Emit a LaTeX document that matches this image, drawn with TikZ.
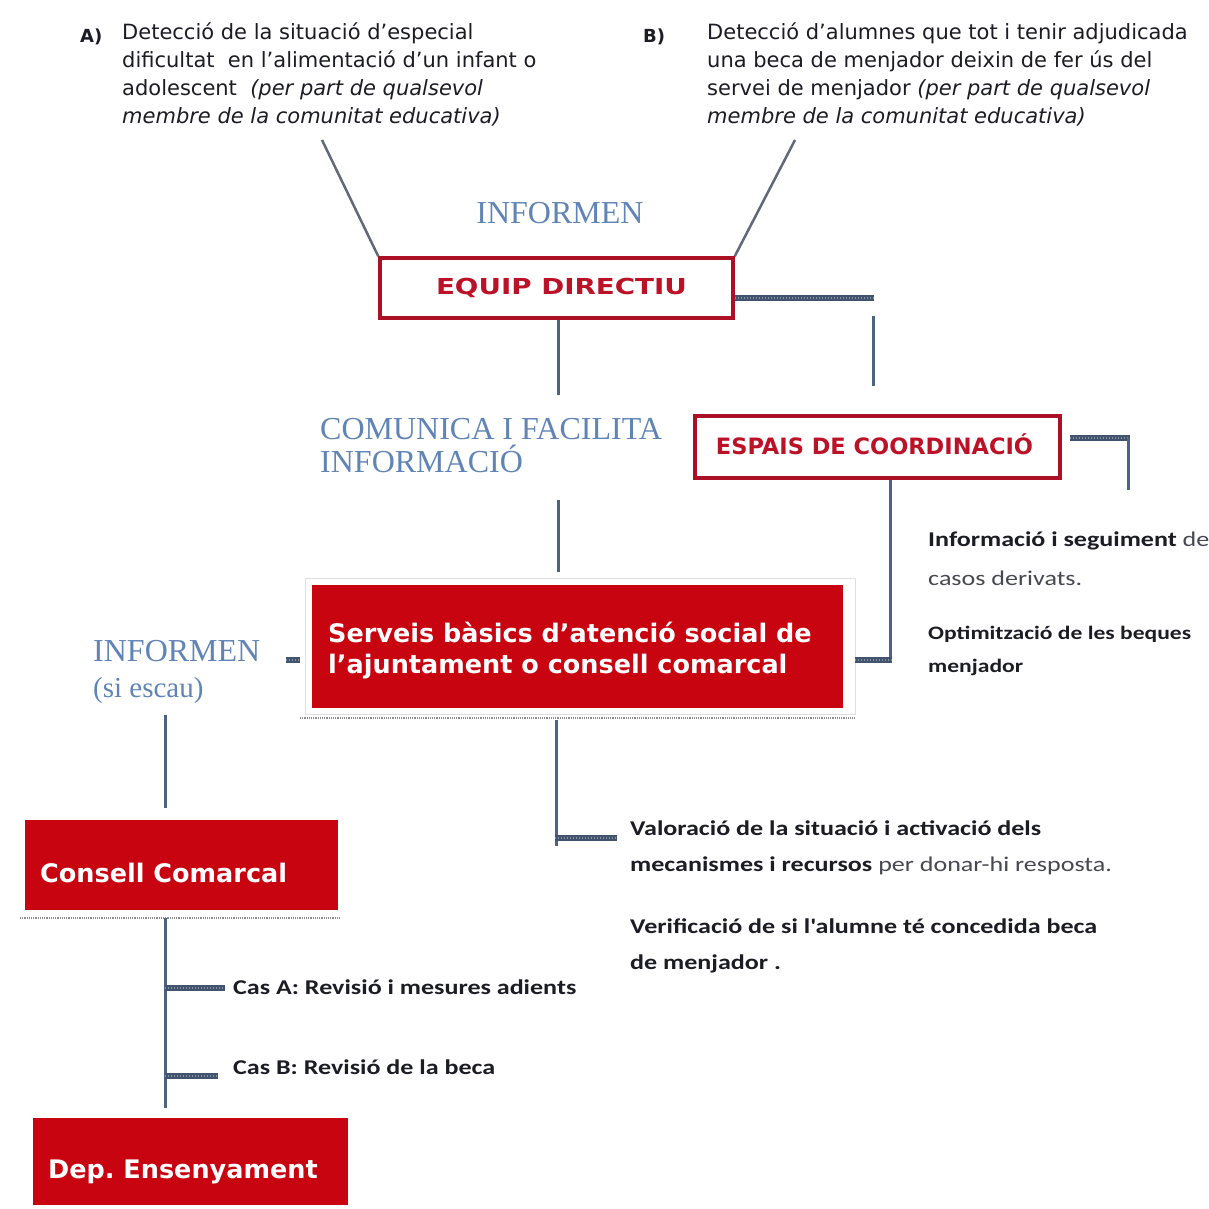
\documentclass[tikz,border=0pt]{standalone}
\usepackage{fontspec}
\setmainfont{DejaVu Sans}
\newfontfamily\boxfont{DejaVu Sans}
\newfontfamily\wideboxfont[FakeStretch=1.26]{DejaVu Sans}
\newfontfamily\serifblue{Liberation Serif}
\newfontfamily\calib[FakeStretch=1.24]{Carlito}
\usetikzlibrary{calc}

\definecolor{redfill}{RGB}{200,4,16}
\definecolor{redline}{RGB}{172,16,36}
\definecolor{redtext}{RGB}{188,18,40}
\definecolor{bluetext}{RGB}{96,132,182}
\definecolor{linec}{RGB}{78,98,130}
\definecolor{slantc}{RGB}{96,104,122}
\definecolor{darktext}{RGB}{28,28,36}
\definecolor{greytext}{RGB}{72,72,82}

\tikzset{
  outlinebox/.style={draw=redline, line width=3.5pt, fill=white, inner sep=0pt,
    text=redtext, font=\wideboxfont\bfseries\fontsize{22}{24}\selectfont},
  redbox/.style={fill=redfill, inner sep=0pt},
  boxlabel/.style={text=white, inner sep=0pt, anchor=west,
    font=\boxfont\bfseries\fontsize{25.5}{31}\selectfont},
  detect/.style={anchor=north west, inner sep=0pt, align=left, text=darktext,
    font=\fontsize{21}{28}\selectfont},
  flowword/.style={text=bluetext, inner sep=0pt, align=left,
    font=\serifblue\fontsize{32}{33}\selectfont},
  note/.style={inner sep=0pt, align=left, text=darktext,
    font=\calib\fontsize{21}{36}\selectfont},
  conn/.style={draw=linec, line width=3pt},
  branch/.style={draw=linec!85!black, line width=5.5pt,
    postaction={draw=linec!70!white, line width=1.8pt, dash pattern=on 1pt off 2pt}},
  slant/.style={draw=slantc, line width=2.5pt},
  shade/.style={draw=black!45, line width=1.2pt, dash pattern=on 1.2pt off 1pt},
}

\begin{document}
\begin{tikzpicture}[x=1pt,y=-1pt]
\useasboundingbox (0,0) rectangle (1208,1209);
\fill[white] (0,0) rectangle (1208,1209);
\clip (0,0) rectangle (1208,1209);

% --- detection statements A) and B)
\node[detect, font=\bfseries\fontsize{18}{28}\selectfont] (labA) at (80,29) {A)};
\node[detect] (detA) at (122,23) {Detecció de la situació d'especial\\
  dificultat\ \ en l'alimentació d'un infant o\\
  adolescent\ \ \textit{(per part de qualsevol}\\
  \textit{membre de la comunitat educativa)}};
\node[detect, font=\bfseries\fontsize{18}{28}\selectfont] (labB) at (643,29) {B)};
\node[detect] (detB) at (707,23) {Detecció d'alumnes que tot i tenir adjudicada\\
  una beca de menjador deixin de fer ús del\\
  servei de menjador \textit{(per part de qualsevol}\\
  \textit{membre de la comunitat educativa)}};

\node[flowword] (inf1) at (560,213) {INFORMEN};

% --- management team
\node[outlinebox, minimum width=353pt, minimum height=60pt] (equip) at (556.5,288) {\hspace*{10pt}EQUIP DIRECTIU};

\coordinate (aEnd) at (322,140);
\coordinate (bEnd) at (795,140);
\draw[slant] (aEnd) -- (equip.north west);
\draw[slant] (bEnd) -- (equip.north east);

% --- link towards the coordination spaces
\coordinate (eqCorner) at (874,298);
\coordinate (coTop) at (873,316);
\coordinate (coBot) at (873,386);
\draw[branch] (equip.east |- eqCorner) -- (eqCorner);
\draw[conn] (coTop) -- (coBot);

% --- communication towards social services
\coordinate (comTop) at (558,395);
\coordinate (comBot) at (558,500);
\coordinate (servTop) at (558,572);
\draw[conn] (equip.south -| comTop) -- (comTop);
\node[flowword, anchor=north west] (comunica) at (320,418) {COMUNICA I FACILITA\\INFORMACIÓ};
\draw[conn] (comBot) -- (servTop);

% --- coordination spaces
\node[outlinebox, minimum width=365pt, minimum height=62pt, font=\boxfont\bfseries\fontsize{22.5}{23}\selectfont] (espais) at (877.5,447) {\raisebox{5pt}{ESPAIS DE COORDINACIÓ}\hspace*{6pt}};
\coordinate (espR) at (1128,438);
\coordinate (espRbot) at (1128,490);
\draw[branch] ([xshift=8pt]espais.east |- espR) -- ([xshift=1.5pt]espR);
\draw[conn] (espR) -- (espRbot);

\node[note, anchor=west, text=greytext] (seg) at (928,541) {\textcolor{darktext}{\textbf{Informació i seguiment}} de};
\node[note, anchor=west, text=greytext] (casos) at (928,578) {casos derivats.};
\node[note, anchor=west, font=\calib\bfseries\fontsize{19}{33}\selectfont] (optim) at (928,634) {Optimització de les beques};
\node[note, anchor=west, font=\calib\bfseries\fontsize{19}{33}\selectfont] (menj) at (928,667) {menjador};

% --- basic social services
\draw[black!12, line width=1pt] (305,578) rectangle (855,714);
\node[redbox, minimum width=531pt, minimum height=123pt] (serveis) at (577.5,646.5) {};
\node[boxlabel, align=left] (servLbl) at (328,651) {Serveis bàsics d’atenció social de\\l’ajuntament o consell comarcal};
\draw[shade] (300,718) -- (855,718);

\coordinate (espDown) at (890,660);
\draw[conn] (espais.south -| espDown) -- (espDown);
\draw[branch] ([xshift=1.5pt]espDown) -- ([xshift=12pt]serveis.east |- espDown);

\coordinate (leftDash) at (286,660);
\draw[branch] (leftDash) -- ([xshift=-12pt]serveis.west |- leftDash);

\node[flowword, anchor=north west] (inf2) at (93,640) {INFORMEN\\[3pt]{\fontsize{29}{30}\selectfont(si escau)}};

% --- assessment by social services
\coordinate (valCorner) at (556,838);
\coordinate (valEnd) at (617,838);
\draw[conn] (valCorner |- serveis.south) ++(0,12) -- ([yshift=-8pt]valCorner);
\draw[branch] ([xshift=-1.5pt]valCorner) -- (valEnd);
\node[note, anchor=north west] (valor) at (630,821) {\textbf{Valoració de la situació i activació dels}\\
  \textbf{mecanismes i recursos} \textcolor{greytext}{per donar-hi resposta.}};
\node[note, anchor=north west] (verif) at (630,919) {\textbf{Verificació de si l'alumne té concedida beca}\\
  \textbf{de menjador .}};

% --- county council
\coordinate (ccTop) at (165,715);
\coordinate (ccBot) at (165,808);
\draw[conn] (ccTop) -- (ccBot);
\node[redbox, minimum width=313pt, minimum height=90pt] (consell) at (181.5,865) {};
\node[boxlabel] (consLbl) at (40,873) {Consell Comarcal};
\draw[shade] (20,918) -- (340,918);

\coordinate (trunkTop) at (165,918);
\coordinate (trunkBot) at (165,1108);
\coordinate (casA) at (225,988);
\coordinate (casB) at (218,1076);
\draw[conn] (trunkTop) -- (trunkBot);
\draw[branch] (trunkTop |- casA) -- (casA);
\draw[branch] (trunkTop |- casB) -- (casB);
\node[note, anchor=west, font=\calib\bfseries\fontsize{21}{25}\selectfont] (casAlbl) at (233,987) {Cas A: Revisió i mesures adients};
\node[note, anchor=west, font=\calib\bfseries\fontsize{21}{25}\selectfont] (casBlbl) at (233,1067) {Cas B: Revisió de la beca};

% --- education department
\node[redbox, minimum width=315pt, minimum height=87pt] (dep) at (190.5,1161.5) {};
\node[boxlabel] (depLbl) at (48,1172) {Dep.\ Ensenyament};
\end{tikzpicture}
\end{document}
